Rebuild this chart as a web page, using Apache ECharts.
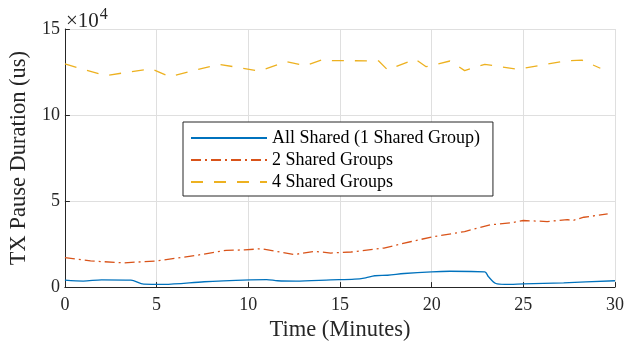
<!DOCTYPE html>
<html><head><meta charset="utf-8">
<script src="https://cdn.jsdelivr.net/npm/echarts@6/dist/echarts.min.js"></script>
<style>html,body{margin:0;padding:0;background:#fff}#c{width:633px;height:347px}</style>
</head><body><div id="c"></div>
<script>
var FONT = 'Liberation Serif';
var seriesNames = ['All Shared (1 Shared Group)', '2 Shared Groups', '4 Shared Groups'];
var xTicks = [0, 5, 10, 15, 20, 25, 30];
var yTicks = [0, 5, 10, 15]; // ×10^4

var blueT = [0, 1.0, 2.0, 3.6, 4.3, 5.4, 7.6, 10.1, 11.0, 11.6, 12.6, 14.5, 15.8, 16.4, 16.9, 17.6, 18.5, 20.0, 21.0, 22.9, 23.1, 23.5, 24.0, 25.0, 27.2, 30.0];
var blueV = [4000, 3500, 4200, 4000, 1700, 1600, 3100, 4200, 4400, 3700, 3500, 4200, 4600, 5400, 6600, 6900, 7900, 8900, 9200, 8900, 6000, 2100, 1600, 1900, 2500, 3700];

var redT = [0, 1.4, 3.2, 5.0, 7.2, 8.8, 9.8, 10.7, 12.5, 13.6, 14.5, 15.6, 17.4, 18.9, 20.0, 21.8, 23.2, 24.3, 25.0, 26.3, 27.4, 27.7, 28.3, 29.6];
var redV = [17100, 15200, 14100, 15200, 18500, 21400, 21600, 22300, 18900, 20800, 19800, 20400, 22700, 26500, 29100, 32300, 36200, 37300, 38700, 38100, 39200, 38700, 40600, 42500];

var yelT = [0, 2.2, 4.7, 5.7, 8.4, 10.6, 12.1, 13.1, 14.1, 14.6, 17.1, 17.6, 19.1, 19.7, 21.0, 21.8, 22.9, 24.7, 27.3, 28.2, 29.2];
var yelV = [129700, 122900, 126900, 122300, 129500, 125600, 131000, 128700, 132400, 131600, 131500, 126200, 132500, 128100, 131400, 125800, 129500, 126600, 131500, 131900, 127200];

function pairs(t, v) { return t.map(function (x, i) { return [x, v[i]]; }); }

var chart = echarts.init(document.getElementById('c'));
chart.setOption({
  animation: false,
  backgroundColor: '#fff',
  textStyle: { fontFamily: FONT },
  title: {
    left: 61, top: -2,
    text: '{a|×10}{b|4}',
    textStyle: {
      fontWeight: 'normal',
      rich: {
        a: { fontFamily: FONT, fontSize: 21, fontWeight: 'normal', color: '#262626', padding: [8, 0, 0, 0] },
        b: { fontFamily: FONT, fontSize: 16, fontWeight: 'normal', color: '#262626', padding: [0, 0, 6, 1] }
      }
    }
  },
  grid: { left: 62, right: 18, top: 29, bottom: 58, containLabel: false },
  legend: {
    left: 183, top: 122, orient: 'vertical',
    itemWidth: 76, itemHeight: 16, itemGap: 4,
    padding: [7, 13, 5, 7],
    backgroundColor: '#fff', borderColor: '#262626', borderWidth: 1, borderRadius: 0,
    itemStyle: { color: 'rgba(0,0,0,0)', borderColor: 'rgba(0,0,0,0)', borderWidth: 0, opacity: 0 },
    textStyle: { fontFamily: FONT, fontSize: 18, color: '#000' },
    data: seriesNames
  },
  xAxis: {
    type: 'value', min: xTicks[0], max: xTicks[xTicks.length - 1], interval: 5,
    name: 'Time (Minutes)', nameLocation: 'middle', nameGap: 28,
    nameTextStyle: { fontFamily: FONT, fontSize: 22.5, color: '#262626' },
    axisLine: { show: true, onZero: false, lineStyle: { color: '#262626', width: 1 } },
    axisTick: { show: true, inside: true, length: 5, lineStyle: { color: '#262626' } },
    axisLabel: { fontFamily: FONT, fontSize: 18, color: '#262626', margin: 9 },
    splitLine: { show: true, lineStyle: { color: '#dfdfdf', width: 1 } }
  },
  yAxis: {
    type: 'value', min: 0, max: yTicks[yTicks.length - 1] * 10000, interval: 50000,
    name: 'TX Pause Duration (us)', nameLocation: 'middle', nameGap: 27,
    nameTextStyle: { fontFamily: FONT, fontSize: 22.5, color: '#262626' },
    axisLine: { show: true, lineStyle: { color: '#262626', width: 1 } },
    axisTick: { show: true, inside: true, length: 5, lineStyle: { color: '#262626' } },
    axisLabel: { fontFamily: FONT, fontSize: 18, color: '#262626', margin: 5,
      formatter: function (v) { return String(v / 10000); } },
    splitLine: { show: true, lineStyle: { color: '#dfdfdf', width: 1 } }
  },
  series: [
    { name: seriesNames[0], type: 'line', data: pairs(blueT, blueV), smooth: 0.3, symbol: 'none',
      itemStyle: { color: '#0072BD' }, lineStyle: { color: '#0072BD', width: 1.3 } },
    { name: seriesNames[1], type: 'line', data: pairs(redT, redV), symbol: 'none',
      itemStyle: { color: '#D95319' }, lineStyle: { color: '#D95319', width: 1.3, type: [10, 4, 2, 4] } },
    { name: seriesNames[2], type: 'line', data: pairs(yelT, yelV), symbol: 'none',
      itemStyle: { color: '#EDB120' }, lineStyle: { color: '#EDB120', width: 1.3, type: [12, 11] } }
  ]
});
</script></body></html>
